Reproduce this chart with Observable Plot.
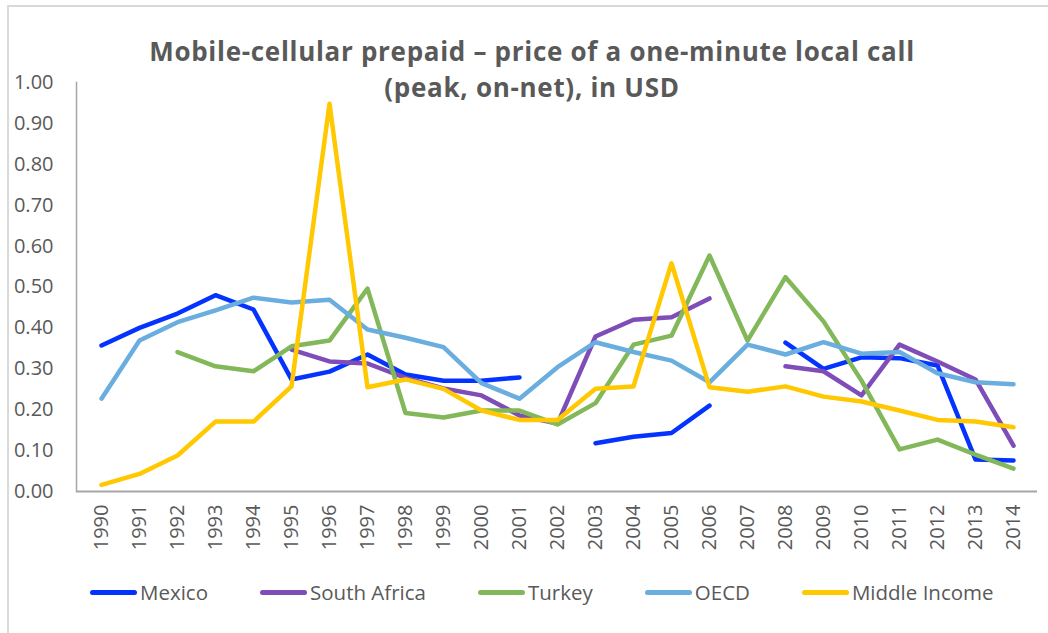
<!DOCTYPE html>
<html>
<head>
<meta charset="utf-8">
<script src="https://cdn.jsdelivr.net/npm/d3@7"></script>
<script src="https://cdn.jsdelivr.net/npm/@observablehq/plot@0.6"></script>
<style>
  html, body { margin: 0; padding: 0; background: #fff; }
  #wrap { position: relative; width: 1048px; height: 633px; overflow: hidden; background: #fff; font-family: "Open Sans", sans-serif; }
  #fig { position: absolute; left: 4px; top: -24px; font-family: "Liberation Serif", serif; font-weight: bold; font-size: 22px; line-height: 22px; color: #000; white-space: nowrap; }
  #frame { position: absolute; left: 7px; top: 5px; width: 1100px; height: 700px; border-left: 2px solid #d9d9d9; border-top: 2px solid #d9d9d9; background: #fff; }
  #title { position: absolute; left: 0; top: 33px; width: 1064px; text-align: center; font-weight: bold; font-size: 26px; letter-spacing: 0.7px; line-height: 36px; color: #595959; }
  #chart { position: absolute; left: 0; top: 0; }
  #legend { position: absolute; left: 90px; top: 578px; display: flex; gap: 52px; font-size: 20.5px; color: #595959; }
  .item { display: flex; align-items: center; }
  .sw { width: 47px; height: 5px; border-radius: 3px; margin-right: 3px; }
</style>
</head>
<body>
<div id="wrap">
  <div id="fig">Figure 7: Mobile-cellular prepaid – price of a one-minute local call (peak, on-net), in USD</div>
  <div id="frame"></div>
  <div id="chart"></div>
  <div id="title">Mobile-cellular prepaid – price of a one-minute local call<br>(peak, on-net), in USD</div>
  <div id="legend"></div>
</div>
<script>
const years = [1990,1991,1992,1993,1994,1995,1996,1997,1998,1999,2000,2001,2002,2003,2004,2005,2006,2007,2008,2009,2010,2011,2012,2013,2014];
const seriesNames = ["Mexico", "South Africa", "Turkey", "OECD", "Middle Income"];
const seriesColors = ["#0433ff", "#7e4db8", "#82b85a", "#6aaddf", "#ffc800"];

const mexico      = [0.357,0.400,0.435,0.480,0.445,0.274,0.293,0.335,0.286,0.271,0.271,0.279,null,0.118,0.134,0.143,0.210,null,0.364,0.300,0.328,0.326,0.308,0.078,0.076];
const southAfrica = [null,null,null,null,null,0.347,0.318,0.313,0.278,0.252,0.235,0.186,0.166,0.379,0.420,0.426,0.472,null,0.306,0.294,0.235,0.359,0.318,0.274,0.112];
const turkey      = [null,null,0.341,0.306,0.294,0.355,0.369,0.496,0.192,0.181,0.198,0.198,0.164,0.216,0.359,0.381,0.577,0.369,0.524,0.416,0.271,0.103,0.127,0.090,0.056];
const oecd        = [0.227,0.369,0.414,0.443,0.474,0.462,0.469,0.396,0.376,0.353,0.265,0.227,0.304,0.365,0.341,0.320,0.267,0.359,0.335,0.365,0.337,0.341,0.289,0.267,0.262];
const middleInc   = [0.016,0.043,0.088,0.171,0.171,0.257,0.948,0.255,0.274,0.251,0.198,0.175,0.175,0.251,0.257,0.558,0.255,0.244,0.257,0.232,0.220,0.198,0.175,0.171,0.157];
const yTicks = [0,0.1,0.2,0.3,0.4,0.5,0.6,0.7,0.8,0.9,1.0];

const seriesValues = [mexico, southAfrica, turkey, oecd, middleInc];
const rows = [];
seriesNames.forEach((name, s) => {
  years.forEach((yr, i) => {
    const v = seriesValues[s][i];
    rows.push({series: name, year: yr, value: v == null ? NaN : v});
  });
});

const chart = Plot.plot({
  width: 1048,
  height: 565,
  marginLeft: 76,
  marginRight: 11,
  marginTop: 82,
  marginBottom: 74,
  style: {fontFamily: "'Open Sans', sans-serif", fontSize: "20px", color: "#595959", background: "transparent", overflow: "visible"},
  x: {type: "point", domain: years, padding: 0.5, label: null},
  y: {domain: [0, 1], label: null},
  color: {domain: seriesNames, range: seriesColors},
  marks: [
    Plot.axisY({ticks: yTicks, tickFormat: d3.format(".2f"), tickSize: 0, tickPadding: 23, label: null, fill: "#595959", fontSize: 20}),
    Plot.axisX({tickRotate: -90, tickSize: 0, tickPadding: 13, label: null, tickFormat: d => String(d), fill: "#595959", fontSize: 20}),
    Plot.frame({anchor: "left", stroke: "#a6a6a6", strokeWidth: 1.5}),
    Plot.ruleY([0], {stroke: "#a6a6a6", strokeWidth: 2.2}),
    Plot.line(rows, {x: "year", y: "value", z: "series", stroke: "series", strokeWidth: 4.5, strokeLinecap: "round", strokeLinejoin: "round"})
  ]
});
document.getElementById("chart").appendChild(chart);

const legend = document.getElementById("legend");
seriesNames.forEach((name, i) => {
  const it = document.createElement("div");
  it.className = "item";
  const sw = document.createElement("div");
  sw.className = "sw";
  sw.style.background = seriesColors[i];
  const lb = document.createElement("span");
  lb.textContent = name;
  it.appendChild(sw); it.appendChild(lb);
  legend.appendChild(it);
});
</script>
</body>
</html>
